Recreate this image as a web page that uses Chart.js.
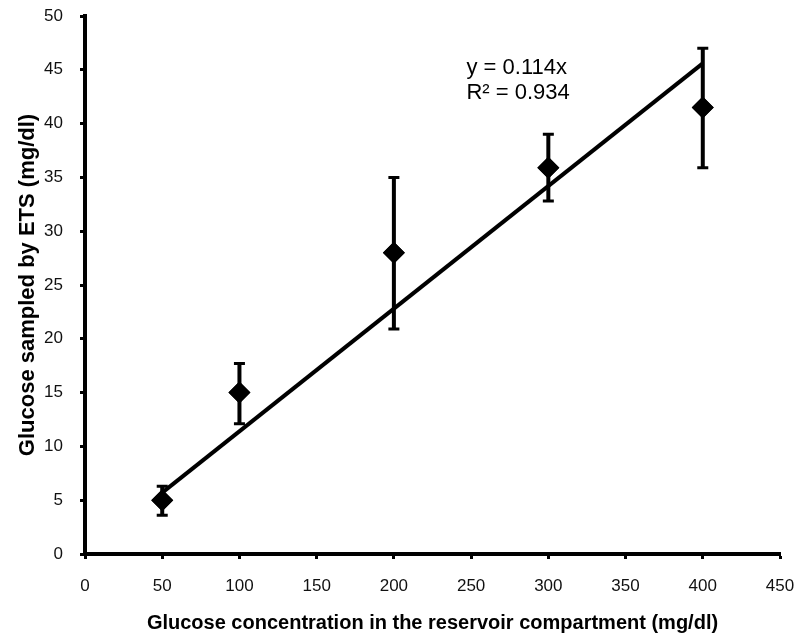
<!DOCTYPE html>
<html lang="en">
<head>
<meta charset="UTF-8" />
<title>Glucose sampled by ETS</title>
<style>
  html, body { margin: 0; padding: 0; background: #fff; }
  .chart-container { width: 800px; height: 641px; position: relative; }
</style>
</head>
<body>
<div class="chart-container">
  <canvas id="glucoseChart"></canvas>
</div>
<script src="https://cdn.jsdelivr.net/npm/chart.js"></script>
<script>
  // measured points (mean and error bar ends)
  const concentrations = [50, 100, 200, 300, 400];
  const sampled = [5.0, 15.0, 28.0, 35.9, 41.5];
  const errLow = [3.6, 12.1, 20.9, 32.8, 35.9];
  const errHigh = [6.3, 17.7, 35.0, 39.0, 47.0];

  // linear trend y = 0.114x
  const trendX = [50, 400];
  const trendY = [5.7, 45.6];
  const trendLabel = ['y = 0.114x', 'R\u00b2 = 0.934'];

  const fontFamily = '"Liberation Sans", Arial, sans-serif';

  const errorBars = {
    id: 'errorBars',
    afterDatasetsDraw(chart) {
      const { ctx, scales: { x, y } } = chart;
      ctx.save();
      ctx.strokeStyle = '#000';
      concentrations.forEach((c, i) => {
        const px = x.getPixelForValue(c);
        const top = y.getPixelForValue(errHigh[i]);
        const bot = y.getPixelForValue(errLow[i]);
        ctx.lineWidth = 4;
        ctx.beginPath();
        ctx.moveTo(px, top); ctx.lineTo(px, bot);
        ctx.stroke();
        ctx.lineWidth = 3;
        ctx.beginPath();
        ctx.moveTo(px - 5.5, top); ctx.lineTo(px + 5.5, top);
        ctx.moveTo(px - 5.5, bot); ctx.lineTo(px + 5.5, bot);
        ctx.stroke();
      });
      // redraw diamonds on top of the bars
      const meta = chart.getDatasetMeta(1);
      meta.data.forEach(pt => pt.draw(ctx, chart.chartArea));

      // trend equation
      ctx.fillStyle = '#000';
      ctx.font = '22px ' + fontFamily;
      ctx.textBaseline = 'middle';
      const tx = x.getPixelForValue(247);
      const ty = y.getPixelForValue(45.2);
      ctx.fillText(trendLabel[0], tx, ty);
      ctx.fillText(trendLabel[1], tx, ty + 25);
      ctx.restore();
    }
  };

  const ctx = document.getElementById('glucoseChart').getContext('2d');
  new Chart(ctx, {
    type: 'scatter',
    data: {
      datasets: [
        {
          label: 'Linear trend',
          data: trendX.map((v, i) => ({ x: v, y: trendY[i] })),
          showLine: true,
          borderColor: '#000',
          borderWidth: 4,
          pointRadius: 0,
          order: 2
        },
        {
          label: 'Glucose sampled',
          data: concentrations.map((v, i) => ({ x: v, y: sampled[i] })),
          pointStyle: 'rectRot',
          pointRadius: 11,
          pointBackgroundColor: '#000',
          pointBorderColor: '#000',
          pointBorderWidth: 0,
          order: 1
        }
      ]
    },
    options: {
      responsive: true,
      maintainAspectRatio: false,
      animation: false,
      layout: { padding: 0 },
      plugins: {
        legend: { display: false },
        tooltip: { enabled: false }
      },
      scales: {
        x: {
          type: 'linear',
          min: 0,
          max: 450,
          afterFit(scale) {
            scale.height = 87;
            scale.paddingLeft = 0;
            scale.paddingRight = 20;
          },
          border: { color: '#000', width: 4 },
          grid: { drawOnChartArea: false, drawTicks: true, tickLength: 5, tickWidth: 3, color: '#000' },
          ticks: { stepSize: 50, color: '#111', padding: 17, font: { family: fontFamily, size: 17 } },
          title: {
            display: true,
            text: 'Glucose concentration in the reservoir compartment (mg/dl)',
            color: '#000',
            font: { family: fontFamily, size: 20, weight: 'bold' },
            padding: { top: 0, bottom: 6 }
          }
        },
        y: {
          type: 'linear',
          min: 0,
          max: 50,
          afterFit(scale) {
            scale.width = 85;
            scale.paddingTop = 16;
            scale.paddingBottom = 0;
          },
          border: { color: '#000', width: 4 },
          grid: { drawOnChartArea: false, drawTicks: true, tickLength: 5, tickWidth: 3, color: '#000' },
          ticks: { stepSize: 5, color: '#111', padding: 17, font: { family: fontFamily, size: 17 } },
          title: {
            display: true,
            text: 'Glucose sampled by ETS (mg/dl)',
            color: '#000',
            font: { family: fontFamily, size: 22, weight: 'bold' },
            padding: { top: 15, bottom: 0 }
          }
        }
      }
    },
    plugins: [errorBars]
  });
</script>
</body>
</html>
